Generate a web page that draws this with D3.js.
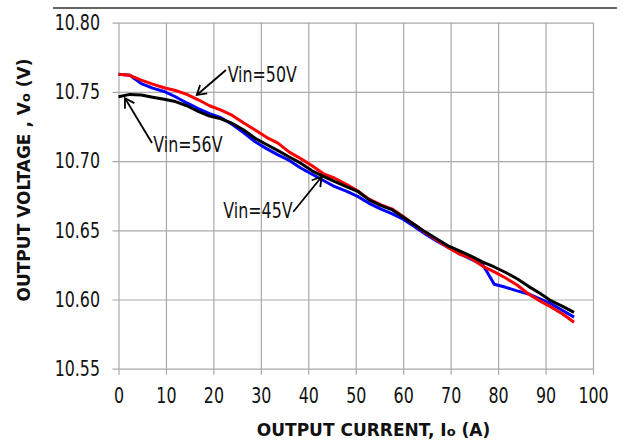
<!DOCTYPE html>
<html>
<head>
<meta charset="utf-8">
<script src="https://cdn.jsdelivr.net/npm/d3@7"></script>
<style>
  body { margin: 0; background: #fff; }
  svg { display: block; }
</style>
</head>
<body>
<svg id="chart" width="622" height="443"></svg>
<script>
// output current, A
const currents = [0, 2.4, 4.8, 7.2, 9.6, 12, 14.4, 16.8, 19.2, 21.6, 24, 26.4, 28.8, 31.2,
  33.6, 36, 38.4, 40.8, 43.2, 45.6, 48, 50.4, 52.8, 55.2, 57.6, 60, 62.4, 64.8, 67.2,
  69.6, 72, 74.4, 76.8, 79.2, 81.6, 84, 86.4, 88.8, 91.2, 93.6, 96];

const vin45 = [10.7627, 10.7620, 10.7560, 10.7527, 10.7503, 10.7465, 10.7420, 10.7380,
  10.7343, 10.7313, 10.7265, 10.7205, 10.7140, 10.7090, 10.7045, 10.7005, 10.6950,
  10.6905, 10.6860, 10.6815, 10.6783, 10.6745, 10.6695, 10.6655, 10.6620, 10.6580,
  10.6525, 10.6470, 10.6420, 10.6375, 10.6330, 10.6290, 10.6250, 10.6110, 10.6088,
  10.6062, 10.6040, 10.6005, 10.5968, 10.5920, 10.5873];

const vin50 = [10.7627, 10.7620, 10.7585, 10.7556, 10.7530, 10.7510, 10.7482, 10.7443,
  10.7400, 10.7368, 10.7330, 10.7276, 10.7225, 10.7172, 10.7130, 10.7065, 10.7018,
  10.6966, 10.6908, 10.6876, 10.6833, 10.6786, 10.6725, 10.6685, 10.6655, 10.6600,
  10.6540, 10.6480, 10.6427, 10.6372, 10.6326, 10.6295, 10.6240, 10.6200, 10.6155,
  10.6105, 10.6040, 10.5990, 10.5945, 10.5895, 10.5835];

const vin56 = [10.7465, 10.7482, 10.7478, 10.7462, 10.7447, 10.7430, 10.7400, 10.7360,
  10.7325, 10.7305, 10.7272, 10.7225, 10.7165, 10.7120, 10.7076, 10.7030, 10.6985,
  10.6930, 10.6890, 10.6851, 10.6815, 10.6782, 10.6720, 10.6680, 10.6650, 10.6594,
  10.6540, 10.6485, 10.6435, 10.6385, 10.6350, 10.6312, 10.6270, 10.6235, 10.6195,
  10.6150, 10.6095, 10.6045, 10.5990, 10.5950, 10.5907];

const xTicks = [0, 10, 20, 30, 40, 50, 60, 70, 80, 90, 100];
const yTicks = [10.55, 10.60, 10.65, 10.70, 10.75, 10.80];

// callouts: label, text anchor (I, V), arrow tail, arrow head
const callouts = [
  { label: "Vin=50V", tx: 23.0, ty: 10.7574, ax: 22.65, ay: 10.7658, hx: 16.5, hy: 10.7478 },
  { label: "Vin=56V", tx: 7.33, ty: 10.7068, ax: 7.06, ay: 10.7131, hx: 1.37, hy: 10.7454 },
  { label: "Vin=45V", tx: 22.1, ty: 10.6587, ax: 36.84, ay: 10.6634, hx: 42.82, hy: 10.6887 }
];

const narrow = "'DejaVu Sans Condensed', sans-serif";
const squeeze = 0.84; // reference uses a narrower face than DejaVu Condensed
const bold = "'DejaVu Sans', sans-serif";

const svg = d3.select("#chart");
const plotL = 118.5, plotR = 593, plotT = 22.7, plotB = 368.7;

const x = d3.scaleLinear().domain([0, 100]).range([plotL, plotR]);
const y = d3.scaleLinear().domain([10.55, 10.80]).range([plotB, plotT]);

// header rule
svg.append("line")
  .attr("x1", 53).attr("x2", 617).attr("y1", 8).attr("y2", 8)
  .attr("stroke", "#333").attr("stroke-width", 1.5);

// grid lines (run past the plot as tick marks)
const gridY = svg.append("g")
  .attr("transform", `translate(${plotR},0)`)
  .call(d3.axisLeft(y).tickValues(yTicks).tickSize(plotR - plotL + 6).tickFormat(""));
const gridX = svg.append("g")
  .attr("transform", `translate(0,${plotT})`)
  .call(d3.axisTop(x).tickValues(xTicks).tickSize(-(plotB - plotT + 6)).tickFormat(""));
[gridY, gridX].forEach(g => {
  g.select(".domain").remove();
  g.selectAll("line").attr("stroke", "#a9a9a9").attr("stroke-width", 1.2);
});

// tick labels
const yLab = svg.append("g")
  .attr("transform", `translate(${plotL},0)`)
  .call(d3.axisLeft(y).tickValues(yTicks).tickSize(0).tickPadding(18.5 / squeeze).tickFormat(d3.format(".2f")));
const xLab = svg.append("g")
  .attr("transform", `translate(0,${plotB})`)
  .call(d3.axisBottom(x).tickValues(xTicks).tickSize(0).tickPadding(19.5));
[yLab, xLab].forEach(g => {
  g.select(".domain").remove();
  g.selectAll("text")
    .attr("transform", `scale(${squeeze},1)`)
    .attr("font-family", narrow).attr("font-size", 21).attr("fill", "#111");
});

// series
const line = d3.line().x((d, i) => x(currents[i])).y(d => y(d));
[[vin45, "#0000ff"], [vin50, "#ff0000"], [vin56, "#000000"]].forEach(([s, c]) => {
  svg.append("path")
    .datum(s)
    .attr("d", line)
    .attr("fill", "none")
    .attr("stroke", c)
    .attr("stroke-width", 3)
    .attr("stroke-linejoin", "round");
});

// callouts
svg.append("defs").append("marker")
  .attr("id", "arrow")
  .attr("markerUnits", "userSpaceOnUse")
  .attr("viewBox", "-12 -7 14 14")
  .attr("markerWidth", 14).attr("markerHeight", 14)
  .attr("orient", "auto")
  .append("path")
  .attr("d", "M-9,-5.5L0,0L-9,5.5")
  .attr("fill", "none").attr("stroke", "#000").attr("stroke-width", 1.8);

callouts.forEach(c => {
  svg.append("line")
    .attr("x1", x(c.ax)).attr("y1", y(c.ay))
    .attr("x2", x(c.hx)).attr("y2", y(c.hy))
    .attr("stroke", "#000").attr("stroke-width", 1.8)
    .attr("marker-end", "url(#arrow)");
  svg.append("text")
    .attr("transform", `translate(${x(c.tx)},${y(c.ty)}) scale(${squeeze},1)`)
    .attr("font-family", narrow).attr("font-size", 21).attr("fill", "#111")
    .text(c.label);
});

// axis titles
const xt = svg.append("text")
  .attr("x", 373.5).attr("y", 436)
  .attr("text-anchor", "middle")
  .attr("font-family", bold).attr("font-weight", "bold").attr("font-size", 17)
  .attr("fill", "#111");
xt.append("tspan").text("OUTPUT CURRENT, I");
xt.append("tspan").attr("font-size", 13).text("o");
xt.append("tspan").text(" (A)");

const yt = svg.append("text")
  .attr("transform", "translate(30,180) rotate(-90)")
  .attr("text-anchor", "middle")
  .attr("font-family", bold).attr("font-weight", "bold").attr("font-size", 17)
  .attr("fill", "#111");
yt.append("tspan").text("OUTPUT VOLTAGE , V");
yt.append("tspan").attr("font-size", 13).text("o");
yt.append("tspan").text(" (V)");
</script>
</body>
</html>
